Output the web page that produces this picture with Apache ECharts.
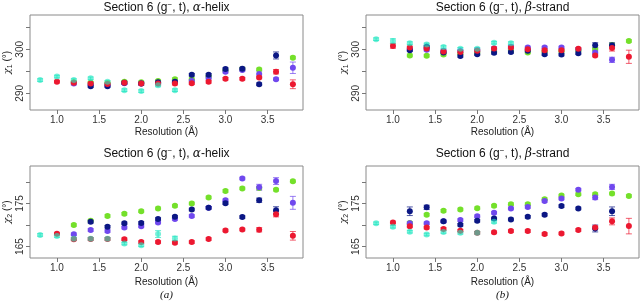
<!DOCTYPE html>
<html><head><meta charset="utf-8">
<script src="https://cdn.jsdelivr.net/npm/echarts@6/dist/echarts.min.js"></script>
<style>html,body{margin:0;padding:0;background:#fff}#c{width:640px;height:301px}</style>
</head><body><div id="c"></div>
<script>
// ---------- data ----------
const resolution = [0.8,1.0,1.2,1.4,1.6,1.8,2.0,2.2,2.4,2.6,2.8,3.0,3.2,3.4,3.6,3.8];
const xTicks = [1.0,1.5,2.0,2.5,3.0,3.5];
const chi1Ticks = [290,295,300,305];
const chi1Labels = [290,300];
const chi2Ticks = [165,170,175,180];
const chi2Labels = [165,175];
const panelTitles = ['α-helix','β-strand','α-helix','β-strand'];
const captions = ['(a)','(b)'];

// chi1, alpha-helix
const helixChi1Green  = [null,null,292.5,292.4,292.3,292.6,292.5,292.8,293.2,293.2,293.8,295.2,295.5,295.4,null,298.1];
const helixChi1Purple = [null,null,292.2,292.0,291.9,292.3,292.2,292.3,292.5,292.8,293.5,294.9,295.3,294.4,293.2,295.8];
const helixChi1Navy   = [null,null,null,291.6,291.6,292.4,292.2,292.5,292.65,294.2,294.2,295.5,295.6,292.05,298.6,null];
const helixChi1Red    = [null,292.65,292.4,292.2,292.1,292.4,292.2,292.2,292.2,292.3,292.6,293.3,293.3,293.6,294.9,292.05];
const helixChi1Turq   = [293.0,293.8,293.0,293.4,292.6,290.7,290.5,291.8,290.7,null,null,null,null,null,null,null];
// chi1, beta-strand
const strandChi1Green  = [null,null,298.6,298.55,298.8,299.0,299.2,299.5,299.6,299.3,299.5,299.6,299.8,300.0,301.0,301.9];
const strandChi1Purple = [null,null,300.0,299.9,299.6,299.6,299.8,300.2,300.5,300.4,300.4,300.4,300.0,299.3,297.6,null];
const strandChi1Navy   = [null,null,299.8,300.6,299.3,298.5,298.9,299.2,299.4,299.7,298.9,298.8,299.1,300.9,300.9,null];
const strandChi1Red    = [null,300.75,300.4,300.2,299.5,299.4,299.7,300.2,300.4,300.0,299.8,299.8,300.1,298.6,300.3,298.3];
const strandChi1Turq   = [302.3,301.9,301.4,301.1,300.5,300.1,300.1,301.5,301.4,null,null,null,null,null,null,null];
// chi2, alpha-helix
const helixChi2Green  = [null,null,170.0,171.0,172.1,172.6,173.2,173.85,174.45,175.0,176.4,177.9,178.5,178.6,178.2,180.15];
const helixChi2Purple = [null,null,167.85,168.85,168.6,169.4,169.7,170.6,171.4,172.1,174.0,175.75,180.8,178.75,180.2,175.15];
const helixChi2Navy   = [null,null,null,170.75,169.6,170.4,170.5,171.4,171.9,173.6,174.0,175.05,171.85,175.75,173.45,null];
const helixChi2Red    = [null,168.0,166.7,166.75,166.75,166.7,166.05,166.05,165.9,166.05,166.75,168.75,168.95,168.9,172.5,167.5];
const helixChi2Turq   = [167.7,167.45,166.8,166.8,166.8,165.7,165.3,167.9,166.9,null,null,null,null,null,null,null];
// chi2, beta-strand
const strandChi2Green  = [null,null,170.5,172.4,173.3,173.6,173.9,174.45,174.85,174.85,176.0,176.85,177.15,177.15,177.3,176.75];
const strandChi2Purple = [null,null,170.4,170.4,170.85,171.15,172.05,172.85,173.85,174.2,175.6,176.15,178.2,176.4,178.85,null];
const strandChi2Navy   = [null,null,173.2,174.1,170.85,170.05,171.0,171.5,171.3,171.9,172.4,174.4,173.85,169.2,173.2,null];
const strandChi2Red    = [null,170.6,169.7,169.4,169.1,168.7,168.2,168.3,168.6,168.6,167.9,168.05,168.85,169.4,170.85,169.75];
const strandChi2Turq   = [170.4,169.6,168.45,167.8,168.4,168.2,168.2,170.75,null,null,null,null,null,null,null,null];

// error bar half-widths: default plus [series, resolution, error] overrides
const defaultErr = 0.3;
const helixChi1Err  = [['navy',3.6,0.8],['purple',3.8,1.3],['red',3.8,1.0],['purple',3.4,0.7],['red',3.6,0.5]];
const strandChi1Err = [['red',3.8,1.5],['purple',3.6,0.6],['navy',3.4,0.6],['navy',3.6,0.6],['red',3.6,0.7],['red',1.0,0.5],['turq',1.0,0.5]];
const helixChi2Err  = [['purple',3.8,1.5],['red',3.8,1.0],['purple',3.6,0.8],['navy',3.6,0.8],['purple',3.4,0.7],['red',3.4,0.5],['navy',3.4,0.5],['turq',2.2,0.8],['turq',2.4,0.5],['red',3.6,0.6]];
const strandChi2Err = [['navy',1.2,1.0],['navy',1.4,0.5],['red',3.8,1.8],['red',3.6,0.8],['navy',3.6,1.0],['navy',3.4,0.8],['purple',3.6,0.6],['purple',3.4,0.5]];

// ---------- build ----------
const keys = ['green','purple','navy','red','turq'];
const colors = {green:'#74e02a', purple:'#7048ee', navy:'#0b1784', red:'#ec1830', turq:'#22e6c2'};
const opac = {green:1, purple:1, navy:1, red:1, turq:0.62};
const panels = [
  {data:{green:helixChi1Green,purple:helixChi1Purple,navy:helixChi1Navy,red:helixChi1Red,turq:helixChi1Turq}, err:helixChi1Err, chi:1},
  {data:{green:strandChi1Green,purple:strandChi1Purple,navy:strandChi1Navy,red:strandChi1Red,turq:strandChi1Turq}, err:strandChi1Err, chi:1},
  {data:{green:helixChi2Green,purple:helixChi2Purple,navy:helixChi2Navy,red:helixChi2Red,turq:helixChi2Turq}, err:helixChi2Err, chi:2},
  {data:{green:strandChi2Green,purple:strandChi2Purple,navy:strandChi2Navy,red:strandChi2Red,turq:strandChi2Turq}, err:strandChi2Err, chi:2}
];
const gridPos = [
  {left:30, top:15, width:273, height:95},
  {left:366, top:15, width:273, height:95},
  {left:30, top:166, width:273, height:92},
  {left:366, top:166, width:273, height:92}
];

function renderErr(params, api) {
  const x = api.value(0), lo = api.value(1), hi = api.value(2);
  const p1 = api.coord([x, lo]), p2 = api.coord([x, hi]);
  const w = 3;
  const style = {stroke: api.visual('color'), lineWidth: 1, opacity: 0.7};
  return {type:'group', children:[
    {type:'line', shape:{x1:p1[0],y1:p1[1],x2:p2[0],y2:p2[1]}, style:style},
    {type:'line', shape:{x1:p1[0]-w,y1:p1[1],x2:p1[0]+w,y2:p1[1]}, style:style},
    {type:'line', shape:{x1:p2[0]-w,y1:p2[1],x2:p2[0]+w,y2:p2[1]}, style:style}
  ]};
}

const grids = [], xAxes = [], yAxes = [], series = [];
panels.forEach((p, i) => {
  grids.push(Object.assign({show:true, borderColor:'#8a8a8a', borderWidth:1, backgroundColor:'transparent'}, gridPos[i]));
  xAxes.push({
    type:'value', gridIndex:i, min:0.68, max:3.92,
    axisLine:{show:false},
    axisTick:{show:true, customValues:xTicks, length:4, lineStyle:{color:'#777'}},
    axisLabel:{customValues:xTicks, formatter:v=>Number(v).toFixed(1), color:'#333', fontSize:10, margin:5, fontFamily:'Liberation Sans'},
    splitLine:{show:false},
    name:'Resolution (Å)', nameLocation:'middle', nameGap: i < 2 ? 17 : 19,
    nameTextStyle:{color:'#222', fontSize:10, fontFamily:'Liberation Sans'}
  });
  const isChi1 = p.chi === 1;
  yAxes.push({
    type:'value', gridIndex:i,
    min: isChi1 ? 286.2 : 162.35, max: isChi1 ? 307.8 : 183.7,
    axisLine:{show:false},
    axisTick:{show:true, customValues: isChi1 ? chi1Ticks : chi2Ticks, length:4, lineStyle:{color:'#777'}},
    axisLabel:{customValues: isChi1 ? chi1Labels : chi2Labels, rotate:90, color:'#333', fontSize:10, margin:5, fontFamily:'Liberation Sans'},
    splitLine:{show:false},
    name:'{c|χ}{s|' + p.chi + '} (°)', nameLocation:'middle', nameGap:16, nameRotate:90,
    nameTextStyle:{color:'#222', fontSize:10, fontFamily:'Liberation Sans',
      rich:{c:{fontFamily:'DejaVu Serif', fontStyle:'italic', fontSize:10, color:'#222'},
            s:{fontSize:7, color:'#222', padding:[6,0,0,0]}}}
  });
  keys.forEach(k => {
    const vals = p.data[k];
    const errData = [];
    const pts = [];
    vals.forEach((v, j) => {
      if (v == null) return;
      let e = defaultErr;
      p.err.forEach(o => { if (o[0] === k && Math.abs(o[1] - resolution[j]) < 1e-6) e = o[2]; });
      errData.push([resolution[j], v - e, v + e]);
      pts.push([resolution[j], v]);
    });
    series.push({type:'custom', xAxisIndex:i, yAxisIndex:i, renderItem:renderErr, data:errData,
      color:colors[k], z:1, silent:true, animation:false, encode:{x:0, y:[1,2]}});
    series.push({type:'scatter', xAxisIndex:i, yAxisIndex:i, data:pts, symbol:'circle', symbolSize:6,
      itemStyle:{color:colors[k], opacity:opac[k]}, z:2, silent:true, animation:false});
  });
});

const graphics = [];
const titleX = [166.5, 502.5, 166.5, 502.5];
const titleY = [7.5, 7.5, 153.5, 153.5];
panelTitles.forEach((t, i) => {
  const parts = t.split('-');
  graphics.push({type:'text', x:titleX[i], y:titleY[i], style:{
    text:'Section 6 (g{sup|−}, t), {gr|' + parts[0] + '}-' + parts[1],
    align:'center', verticalAlign:'middle', fill:'#111', fontSize:12, fontFamily:'Liberation Sans',
    rich:{sup:{fontSize:8, padding:[0,0,6,0], fill:'#111', fontFamily:'Liberation Sans'},
          gr:{fontSize:12, fontStyle:'italic', fontFamily:'DejaVu Serif', fill:'#111'}}
  }});
});
captions.forEach((c, i) => {
  graphics.push({type:'text', x:[166.5,502.5][i], y:295, style:{text:c, align:'center', verticalAlign:'middle',
    fontSize:11, fontStyle:'italic', fontFamily:'Liberation Serif', fill:'#111'}});
});

const chart = echarts.init(document.getElementById('c'), null, {renderer:'canvas'});
chart.setOption({
  animation:false, backgroundColor:'#fff',
  grid:grids, xAxis:xAxes, yAxis:yAxes, series:series, graphic:graphics
});
</script></body></html>
